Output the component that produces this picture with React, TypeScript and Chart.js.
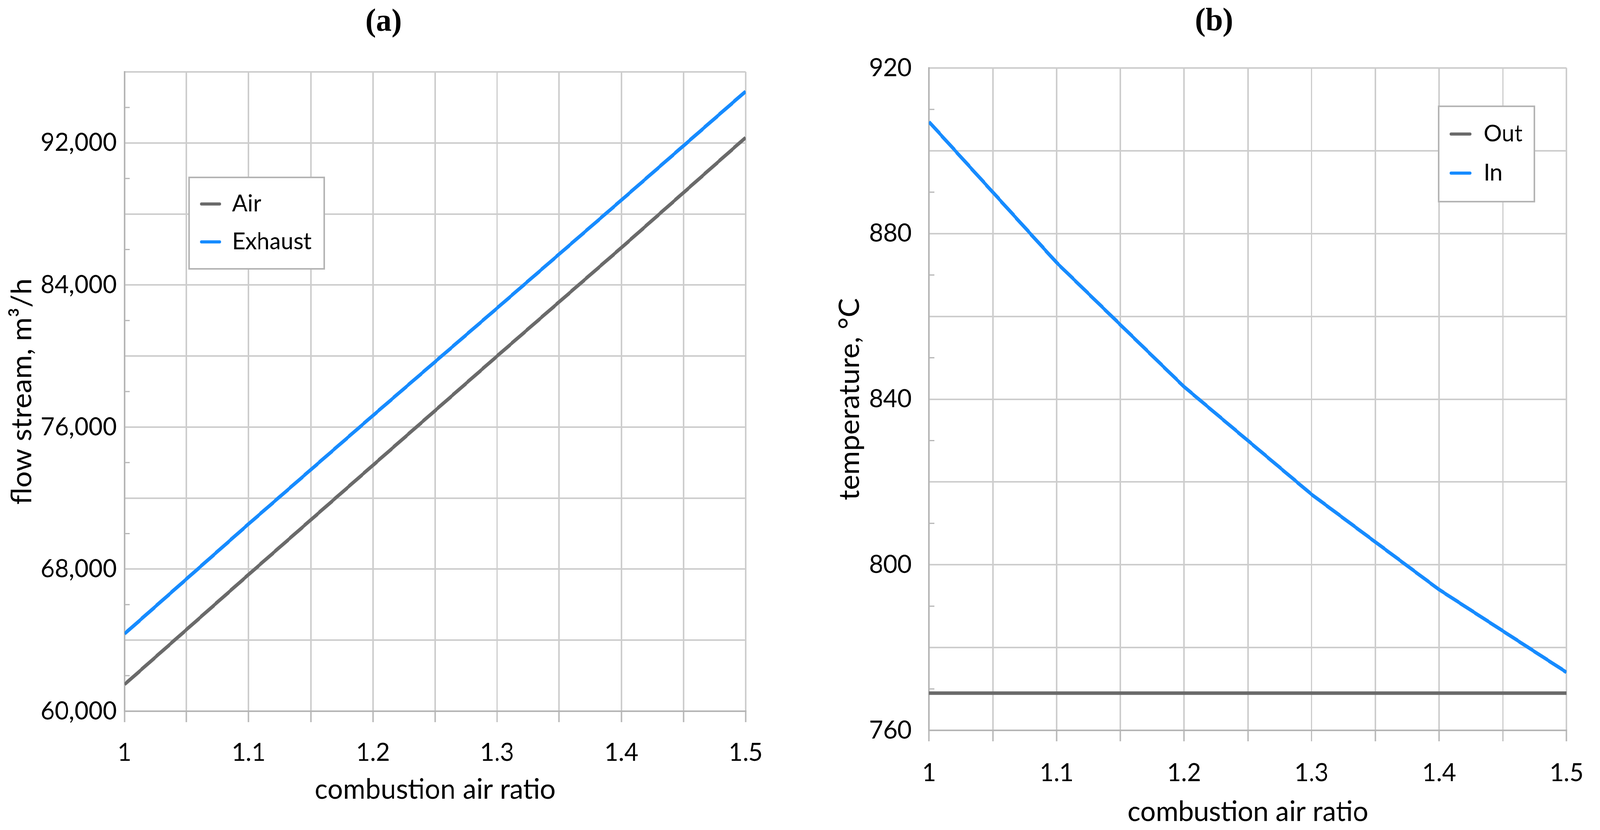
import React, { useEffect, useRef, useState } from 'react';
import { Chart, registerables } from 'chart.js';

Chart.register(...registerables);

// ---------- data ----------
const ratios = [1, 1.1, 1.2, 1.3, 1.4, 1.5];
const airFlow = [61500, 67700, 73850, 80000, 86100, 92300];
const exhaustFlow = [64350, 70550, 76650, 82700, 88780, 94900];
const tempOut = [769, 769, 769, 769, 769, 769];
const tempIn = [907, 873, 843, 817, 794, 774];

const ratioTickLabels = [1, 1.1, 1.2, 1.3, 1.4, 1.5];
const flowTickLabels = [60000, 68000, 76000, 84000, 92000];
const tempTickLabels = [760, 800, 840, 880, 920];

const seriesNamesA = ['Air', 'Exhaust'];
const seriesNamesB = ['Out', 'In'];

const GRAY = '#6a6a6a';
const BLUE = '#168bff';
const GRID = '#cdcdcd';
const AXIS = '#b5b5b5';
const FONT = 'Lato';

const PAGE_W = 4204;
const PAGE_H = 2124;

type PanelSpec = {
  title: string;
  titleX: number;
  titleY: number;
  series: number[][];
  names: string[];
  colors: string[];
  yMin: number;
  yMax: number;
  yStep: number;
  yGridStep: number;
  yLabels: number[];
  yFormat: (v: number) => string;
  yTitle: string;
  yTitlePad: number;
  yAxisWidth: number;
  yTickPad: number;
  xAxisHeight: number;
  xTickPad: number;
  xTitlePadBottom: number;
  padTop: number;
  padRight: number;
  legend: { x: number; y: number; w: number; h: number; lineX0: number; lineX1: number; textX: number; ys: number[] };
};

function makeConfig(p: PanelSpec): any {
  const datasets = p.series.map((vals, si) => ({
    label: p.names[si],
    data: ratios.map((x, i) => ({ x, y: vals[i] })),
    borderColor: p.colors[si],
    backgroundColor: p.colors[si],
    borderWidth: 9,
    pointRadius: 0,
    tension: 0,
    fill: false,
  }));

  const decorPlugin = {
    id: 'decor',
    beforeDatasetsDraw(chart: any) {
      const ctx = chart.ctx;
      const ys = chart.scales.y;
      const left = chart.chartArea.left;
      ctx.save();
      ctx.strokeStyle = AXIS;
      ctx.lineWidth = 3;
      ctx.beginPath();
      ys.ticks.forEach((t: any) => {
        const v = Math.round(t.value);
        if (v % p.yGridStep !== 0) {
          const py = ys.getPixelForValue(v);
          ctx.moveTo(left, py);
          ctx.lineTo(left + 14, py);
        }
      });
      ctx.stroke();
      ctx.restore();
    },
    afterDraw(chart: any) {
      const ctx = chart.ctx;
      const L = p.legend;
      ctx.save();
      ctx.fillStyle = '#ffffff';
      ctx.fillRect(L.x, L.y, L.w, L.h);
      ctx.strokeStyle = '#b4b4b4';
      ctx.lineWidth = 4;
      ctx.strokeRect(L.x, L.y, L.w, L.h);
      chart.data.datasets.forEach((ds: any, i: number) => {
        ctx.strokeStyle = ds.borderColor;
        ctx.lineWidth = 8;
        ctx.lineCap = 'round';
        ctx.beginPath();
        ctx.moveTo(L.lineX0, L.ys[i]);
        ctx.lineTo(L.lineX1, L.ys[i]);
        ctx.stroke();
        ctx.fillStyle = '#000';
        ctx.font = `60px ${FONT}`;
        ctx.textAlign = 'left';
        ctx.textBaseline = 'middle';
        ctx.fillText(ds.label, L.textX, L.ys[i]);
      });
      ctx.fillStyle = '#000';
      ctx.font = 'bold 82px "Liberation Serif"';
      ctx.textAlign = 'center';
      ctx.textBaseline = 'middle';
      ctx.fillText(p.title, p.titleX, p.titleY);
      ctx.restore();
    },
  };

  return {
    type: 'line',
    data: { datasets },
    plugins: [decorPlugin],
    options: {
      animation: false,
      responsive: false,
      devicePixelRatio: 1,
      layout: { padding: { top: p.padTop, right: p.padRight, bottom: 0, left: 0 } },
      plugins: { legend: { display: false }, title: { display: false }, tooltip: { enabled: false } },
      scales: {
        x: {
          type: 'linear',
          min: 1,
          max: 1.5,
          afterFit: (s: any) => {
            s.height = p.xAxisHeight;
          },
          ticks: {
            stepSize: 0.05,
            autoSkip: false,
            maxRotation: 0,
            minRotation: 0,
            padding: p.xTickPad,
            color: '#000',
            font: { family: FONT, size: 64 },
            callback: (v: any) => {
              const hit = ratioTickLabels.find((r) => Math.abs(r - Number(v)) < 1e-6);
              return hit === undefined ? '' : String(hit);
            },
          },
          grid: { color: GRID, lineWidth: 4, drawTicks: true, tickLength: 28, tickColor: '#bdbdbd', tickWidth: 4 },
          border: { color: AXIS, width: 4 },
          title: {
            display: true,
            text: 'combustion air ratio',
            color: '#000',
            font: { family: FONT, size: 72 },
            padding: { top: 0, bottom: p.xTitlePadBottom },
          },
        },
        y: {
          type: 'linear',
          min: p.yMin,
          max: p.yMax,
          afterFit: (s: any) => {
            s.width = p.yAxisWidth;
          },
          ticks: {
            stepSize: p.yStep,
            autoSkip: false,
            padding: p.yTickPad,
            color: '#000',
            font: { family: FONT, size: 64 },
            callback: (v: any) => {
              const n = Math.round(Number(v));
              return p.yLabels.includes(n) ? p.yFormat(n) : '';
            },
          },
          grid: {
            color: (c: any) => (c.tick && Math.round(c.tick.value) % p.yGridStep === 0 ? GRID : 'rgba(0,0,0,0)'),
            lineWidth: 4,
            drawTicks: false,
          },
          border: { color: AXIS, width: 4 },
          title: {
            display: true,
            text: p.yTitle,
            color: '#000',
            font: { family: FONT, size: 74 },
            padding: { top: p.yTitlePad, bottom: 0 },
          },
        },
      },
    },
  };
}

const panelA: PanelSpec = {
  title: '(a)',
  titleX: 1008,
  titleY: 58,
  series: [airFlow, exhaustFlow],
  names: seriesNamesA,
  colors: [GRAY, BLUE],
  yMin: 60000,
  yMax: 96000,
  yStep: 2000,
  yGridStep: 4000,
  yLabels: flowTickLabels,
  yFormat: (v) => v.toLocaleString('en-US'),
  yTitle: 'flow stream, m³/h',
  yTitlePad: 14,
  yAxisWidth: 327,
  yTickPad: 20,
  xAxisHeight: 304,
  xTickPad: 40,
  xTitlePadBottom: 60,
  padTop: 184,
  padRight: 141,
  legend: { x: 497, y: 454, w: 355, h: 234, lineX0: 530, lineX1: 577, textX: 610, ys: [522, 619] },
};

const panelB: PanelSpec = {
  title: '(b)',
  titleX: 1090,
  titleY: 56,
  series: [tempOut, tempIn],
  names: seriesNamesB,
  colors: [GRAY, BLUE],
  yMin: 760,
  yMax: 920,
  yStep: 10,
  yGridStep: 20,
  yLabels: tempTickLabels,
  yFormat: (v) => String(v),
  yTitle: 'temperature, °C',
  yTitlePad: 89,
  yAxisWidth: 341,
  yTickPad: 46,
  xAxisHeight: 255,
  xTickPad: 43,
  xTitlePadBottom: 3,
  padTop: 174,
  padRight: 66,
  legend: { x: 1680, y: 272, w: 252, h: 244, lineX0: 1713, lineX1: 1762, textX: 1798, ys: [343, 443] },
};

function Panel({ spec, left, width }: { spec: PanelSpec; left: number; width: number }) {
  const ref = useRef<HTMLCanvasElement | null>(null);
  useEffect(() => {
    if (!ref.current) return;
    const chart = new Chart(ref.current, makeConfig(spec));
    return () => chart.destroy();
  }, [spec]);
  return (
    <div style={{ position: 'absolute', left, top: 0, width, height: PAGE_H }}>
      <canvas ref={ref} width={width} height={PAGE_H} />
    </div>
  );
}

export default function App() {
  const [scale] = useState(() => ({
    sx: (typeof window !== 'undefined' ? window.innerWidth : PAGE_W) / PAGE_W,
    sy: (typeof window !== 'undefined' ? window.innerHeight : PAGE_H) / PAGE_H,
  }));
  return (
    <div style={{ position: 'fixed', left: 0, top: 0, right: 0, bottom: 0, background: '#ffffff', overflow: 'hidden' }}>
      <div
        style={{
          position: 'absolute',
          left: 0,
          top: 0,
          width: PAGE_W,
          height: PAGE_H,
          transformOrigin: '0 0',
          transform: `scale(${scale.sx}, ${scale.sy})`,
        }}
      >
        <Panel spec={panelA} left={0} width={2100} />
        <Panel spec={panelB} left={2100} width={2104} />
      </div>
    </div>
  );
}
